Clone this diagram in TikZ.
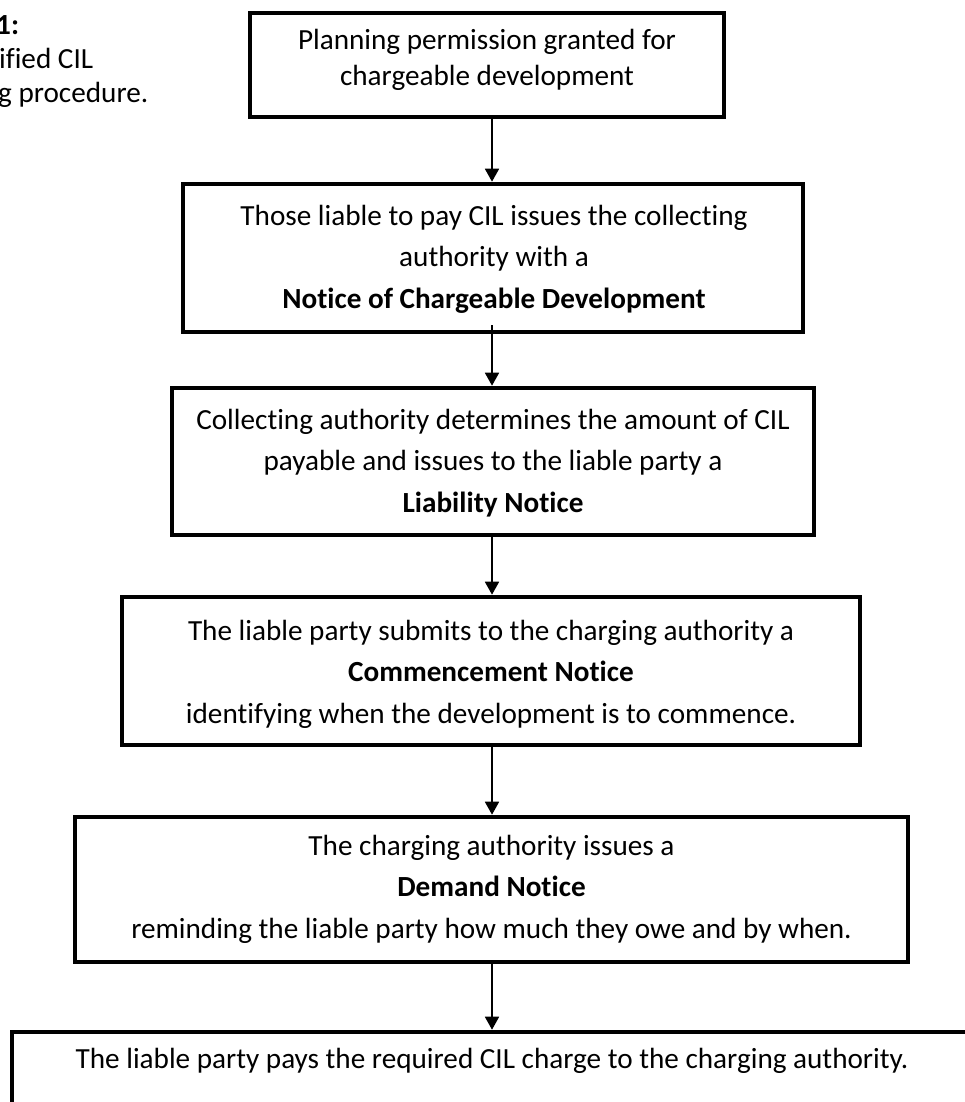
\documentclass[tikz,border=0pt]{standalone}
\usepackage{fontspec}
\setmainfont{Carlito}[Ligatures={NoCommon,NoRare}]
\usetikzlibrary{arrows.meta,calc}
\begin{document}
\begin{tikzpicture}[x=1pt,y=-1pt,
  box/.style={draw=black,line width=4.6pt,fill=none,inner sep=0pt},
  ln/.style={anchor=base,inner sep=0pt,font=\fontsize{29.2}{35}\selectfont},
  lnw/.style={anchor=base west,inner sep=0pt,font=\fontsize{29.2}{35}\selectfont},
  arr/.style={line width=1.8pt,-{Triangle[width=14pt,length=13pt]}}]
\useasboundingbox (0,0) rectangle (964,1102);
% caption fragments (clipped at the left edge)
\node[lnw,font=\fontsize{29.2}{35}\bfseries] (c1) at (-4,35) {1:};
\node[lnw] (c2) at (-1,69) {ified CIL};
\node[lnw] (c3) at (-2,103) {g procedure.};
% boxes
\node[box,minimum width=474pt,minimum height=104pt] (b1) at (487,65) {};
\node[box,minimum width=620pt,minimum height=148pt] (b2) at (493,258) {};
\node[box,minimum width=642pt,minimum height=147pt] (b3) at (493,461.5) {};
\node[box,minimum width=738pt,minimum height=148pt] (b4) at (491,671) {};
\node[box,minimum width=833pt,minimum height=145pt] (b5) at (491.5,889.5) {};
\node[box,minimum width=960pt,minimum height=140pt] (b6) at (492,1102) {};
% texts
\node[ln] (t1a) at (487,50) {Planning permission granted for};
\node[ln] (t1b) at (487,86) {chargeable development};
\node[ln] (t2a) at (494,225) {Those liable to pay CIL issues the collecting};
\node[ln] (t2b) at (494,266.5) {authority with a};
\node[ln] (t2c) at (494,308) {\bfseries Notice of Chargeable Development};
\node[ln] (t3a) at (493,429) {Collecting authority determines the amount of CIL};
\node[ln] (t3b) at (493,470.5) {payable and issues to the liable party a};
\node[ln] (t3c) at (493,512) {\bfseries Liability Notice};
\node[ln] (t4a) at (491,640) {The liable party submits to the charging authority a};
\node[ln] (t4b) at (491,681.5) {\bfseries Commencement Notice};
\node[ln] (t4c) at (491,723) {identifying when the development is to commence.};
\node[ln] (t5a) at (491.5,855) {The charging authority issues a};
\node[ln] (t5b) at (491.5,896.5) {\bfseries Demand Notice};
\node[ln] (t5c) at (491.5,938) {reminding the liable party how much they owe and by when.};
\node[ln] (t6a) at (492,1068) {The liable party pays the required CIL charge to the charging authority.};
% arrows
\coordinate (ax) at (492,0);
\draw[arr] (b1.south -| ax) -- (b2.north -| ax);
\draw[arr] ($(b2.south -| ax)+(0,-9)$) -- (b3.north -| ax);
\draw[arr] (b3.south -| ax) -- (b4.north -| ax);
\draw[arr] (b4.south -| ax) -- (b5.north -| ax);
\draw[arr] (b5.south -| ax) -- (b6.north -| ax);
\end{tikzpicture}
\end{document}
